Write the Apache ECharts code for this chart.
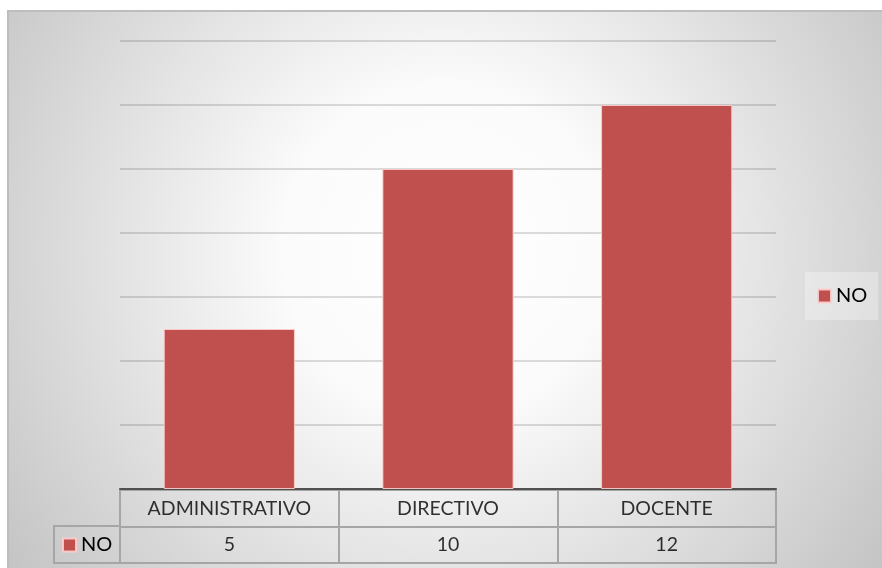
<!DOCTYPE html>
<html>
<head>
<meta charset="utf-8">
<script src="https://cdn.jsdelivr.net/npm/echarts@6/dist/echarts.min.js"></script>
<style>
  html, body { margin: 0; padding: 0; background: #ffffff; }
  #chart { width: 882px; height: 568px; }
</style>
</head>
<body>
<div id="chart"></div>
<script>
// Categories, series and value axis settings
const categories = ['ADMINISTRATIVO', 'DIRECTIVO', 'DOCENTE'];
const seriesName = 'NO';
const values = [5, 10, 12];
const yMin = 0;
const yMax = 14;
const yStep = 2;
// Row keys of the data table under the plot (bottom to top)
const tableRows = ['valores', 'encabezado'];

const FONT = 'Lato';
const BAR_COLOR = '#c0504d';
const TABLE_LINE = '#a6a6a6';

const chart = echarts.init(document.getElementById('chart'), null, { renderer: 'canvas' });

const cellLabel = {
  show: true, position: 'inside',
  fontFamily: FONT, fontSize: 19.5, color: '#000'
};

const option = {
  animation: false,
  textStyle: { fontFamily: FONT },
  graphic: [
    {
      type: 'rect',
      z: -100,
      silent: true,
      shape: { x: 8, y: 11, width: 900, height: 600 },
      style: {
        fill: {
          type: 'radial', x: 445, y: 250, r: 540, global: true,
          colorStops: [
            { offset: 0, color: '#ffffff' },
            { offset: 0.3, color: '#fbfbfb' },
            { offset: 1, color: '#c4c4c4' }
          ]
        },
        stroke: '#bdbdbd',
        lineWidth: 2
      }
    },
    {
      // border of the row-header cell of the data table
      type: 'rect',
      silent: true,
      shape: { x: 54, y: 526, width: 66, height: 37 },
      style: { fill: 'none', stroke: TABLE_LINE, lineWidth: 2 }
    }
  ],
  legend: [
    {
      data: [seriesName],
      left: 805,
      top: 272,
      orient: 'vertical',
      padding: [14, 11, 14, 12],
      backgroundColor: 'rgba(255,255,255,0.3)',
      icon: 'rect',
      itemWidth: 13,
      itemHeight: 13,
      selectedMode: false,
      textStyle: { fontFamily: FONT, fontSize: 20, color: '#000' }
    },
    {
      data: [seriesName],
      left: 62,
      top: 535,
      padding: 0,
      icon: 'rect',
      itemWidth: 13,
      itemHeight: 13,
      selectedMode: false,
      textStyle: { fontFamily: FONT, fontSize: 20, color: '#000' }
    }
  ],
  grid: [
    { left: 120, right: 106, top: 41, bottom: 79 },
    {
      left: 120, right: 106, top: 490, height: 73,
      show: true, borderColor: TABLE_LINE, borderWidth: 2,
      backgroundColor: 'transparent'
    }
  ],
  xAxis: [
    {
      gridIndex: 0,
      type: 'category',
      data: categories,
      axisLine: { lineStyle: { color: '#505050', width: 2 } },
      axisTick: { show: false },
      axisLabel: { show: false }
    },
    {
      gridIndex: 1,
      type: 'category',
      data: categories,
      axisLine: { show: false },
      axisTick: { show: false },
      axisLabel: { show: false },
      splitLine: { show: true, interval: 0, lineStyle: { color: TABLE_LINE, width: 2 } }
    }
  ],
  yAxis: [
    {
      gridIndex: 0,
      type: 'value',
      min: yMin,
      max: yMax,
      interval: yStep,
      axisLine: { show: false },
      axisTick: { show: false },
      axisLabel: { show: false },
      splitLine: { lineStyle: { color: 'rgba(0,0,0,0.18)', width: 1.5 } }
    },
    {
      gridIndex: 1,
      type: 'category',
      data: tableRows,
      axisLine: { show: false },
      axisTick: { show: false },
      axisLabel: { show: false },
      splitLine: { show: true, interval: 0, lineStyle: { color: TABLE_LINE, width: 2 } }
    }
  ],
  series: [
    {
      name: seriesName,
      type: 'bar',
      xAxisIndex: 0,
      yAxisIndex: 0,
      data: values,
      barWidth: '60%',
      itemStyle: { color: BAR_COLOR, borderColor: 'rgba(255,205,205,0.9)', borderWidth: 1 }
    },
    {
      name: 'tabla-encabezado',
      type: 'scatter',
      xAxisIndex: 1,
      yAxisIndex: 1,
      silent: true,
      symbol: 'rect',
      symbolSize: 1,
      itemStyle: { color: 'transparent' },
      data: categories.map(c => [c, tableRows[1]]),
      label: Object.assign({ formatter: p => p.value[0] }, cellLabel)
    },
    {
      name: 'tabla-valores',
      type: 'scatter',
      xAxisIndex: 1,
      yAxisIndex: 1,
      silent: true,
      symbol: 'rect',
      symbolSize: 1,
      itemStyle: { color: 'transparent' },
      data: categories.map((c, i) => [c, tableRows[0], values[i]]),
      label: Object.assign({ formatter: p => String(p.value[2]) }, cellLabel)
    }
  ]
};

chart.setOption(option);
</script>
</body>
</html>
